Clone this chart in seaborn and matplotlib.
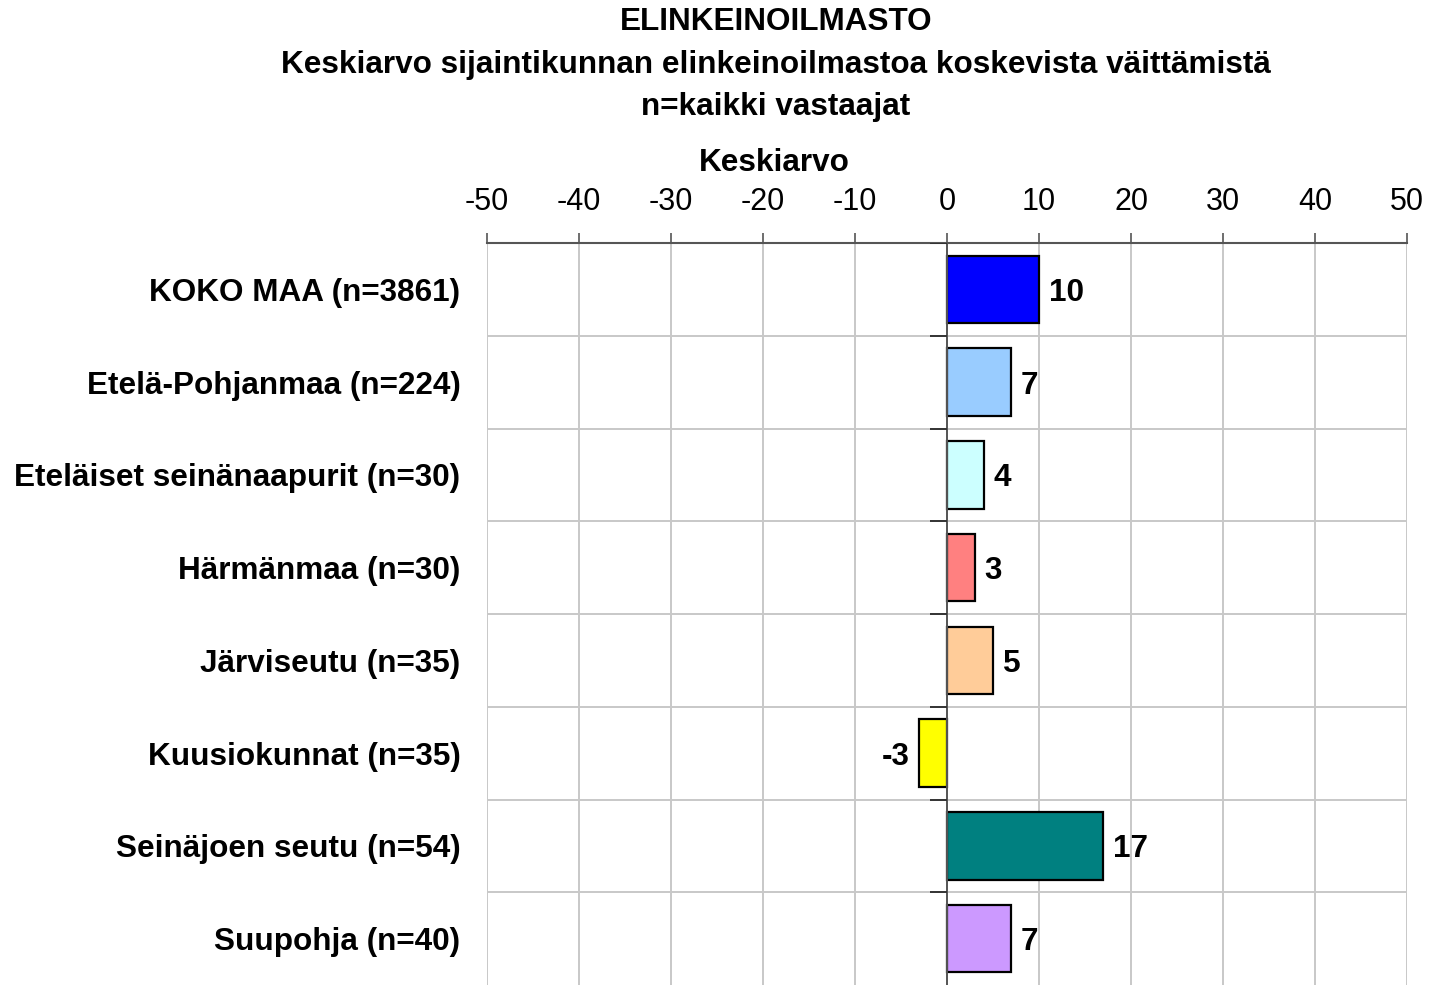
import numpy as np
import pandas as pd
import matplotlib
matplotlib.use('Agg')
from matplotlib import pyplot as plt
import seaborn as sns

categories = ['KOKO MAA (n=3861)', 'Etelä-Pohjanmaa (n=224)', 'Eteläiset seinänaapurit (n=30)',
              'Härmänmaa (n=30)', 'Järviseutu (n=35)', 'Kuusiokunnat (n=35)',
              'Seinäjoen seutu (n=54)', 'Suupohja (n=40)']
values = [10, 7, 4, 3, 5, -3, 17, 7]
colors = ['#0000FF', '#99CCFF', '#CCFFFF', '#FF8080', '#FFCC99', '#FFFF00', '#008080', '#CC99FF']
x_ticks = [-50, -40, -30, -20, -10, 0, 10, 20, 30, 40, 50]

sns.set_style('white')
plt.rcParams['font.family'] = ['Liberation Sans', 'DejaVu Sans']
plt.rcParams['text.color'] = 'black'
plt.rcParams['xtick.labelcolor'] = 'black'
plt.rcParams['ytick.labelcolor'] = 'black'

df = pd.DataFrame({'alue': categories, 'keskiarvo': values})

fig = plt.figure(figsize=(14.29, 9.85), dpi=100)
ax = fig.add_axes([487 / 1429, 0.0, (1407 - 487) / 1429, 1 - 243 / 985])

sns.barplot(data=df, x='keskiarvo', y='alue', hue='alue', palette=colors, legend=False,
            orient='h', width=0.73, saturation=1, edgecolor='black', linewidth=1.6, ax=ax, zorder=3)

ax.set_xlim(-50, 50)
ax.set_ylim(len(categories) - 0.5, -0.5)
ax.xaxis.tick_top()
ax.set_xticks(x_ticks)
ax.set_xticklabels([str(t) for t in x_ticks], fontsize=22)
ax.tick_params(axis='x', direction='out', length=7, width=1.2, color='#555555', pad=12)
ax.tick_params(axis='y', length=0, pad=19)
for lab in ax.get_yticklabels():
    lab.set_fontsize(22.7)
    lab.set_fontweight('bold')
ax.set_xlabel('')
ax.set_ylabel('')

# grid
ax.grid(False)
for t in x_ticks:
    ax.axvline(t, color='#c8c8c8', lw=1.4, zorder=0)
bounds = np.arange(len(categories) - 1) + 0.5
ax.hlines(bounds, -50, 50, color='#c8c8c8', lw=1.4, zorder=0)
ax.axvline(0, color='#555555', lw=1.4, zorder=4)
ax.hlines(np.concatenate([[-0.5], bounds]), -1.8, 0, color='#333333', lw=1.4, zorder=4)

for s in ['left', 'right', 'bottom']:
    ax.spines[s].set_visible(False)
ax.spines['top'].set_color('#555555')
ax.spines['top'].set_linewidth(1.5)

for c in ax.containers:
    for t in ax.bar_label(c, fmt='%d', padding=7, fontsize=22.7, fontweight='bold'):
        t.set_verticalalignment('center_baseline')

fig.text(774 / 1429, 1 - 163 / 985, 'Keskiarvo', ha='center', va='center', fontsize=22.7, fontweight='bold')
fig.text(776 / 1429, 1 - 22 / 985, 'ELINKEINOILMASTO', ha='center', va='center', fontsize=22.7, fontweight='bold')
fig.text(776 / 1429, 1 - 65 / 985, 'Keskiarvo sijaintikunnan elinkeinoilmastoa koskevista väittämistä',
         ha='center', va='center', fontsize=22.7, fontweight='bold')
fig.text(776 / 1429, 1 - 107 / 985, 'n=kaikki vastaajat', ha='center', va='center', fontsize=22.7, fontweight='bold')

fig.savefig('out.png', dpi=100)
